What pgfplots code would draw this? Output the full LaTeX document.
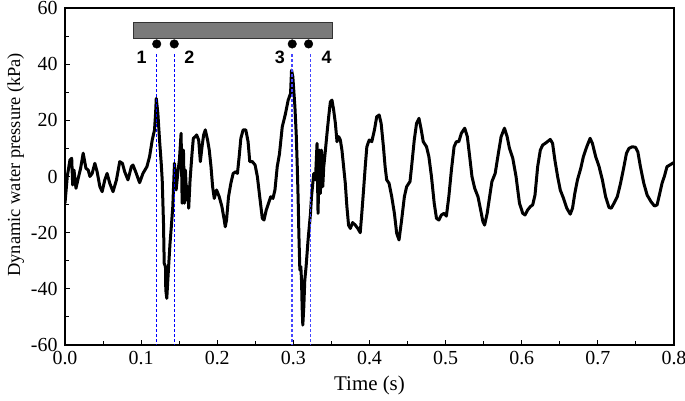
\documentclass[border=0pt]{standalone}
\usepackage{fontspec}
\setmainfont{Liberation Serif}
\newfontfamily\numfont{Liberation Sans}
\usepackage{pgfplots}
\pgfplotsset{compat=1.18}
\definecolor{lineblue}{RGB}{0,0,255}
\definecolor{lineblue2}{RGB}{70,70,255}
\definecolor{bargray}{RGB}{122,122,122}

\begin{document}
\begin{tikzpicture}
\begin{axis}[
    scale only axis,
    width=609bp, height=337bp,
    xmin=0, xmax=0.8, ymin=-60, ymax=60,
    xtick={0,0.1,0.2,0.3,0.4,0.5,0.6,0.7,0.8},
    ytick={-60,-40,-20,0,20,40,60},
    minor tick num=1,
    tick pos=left, tick align=inside,
    major tick length=5bp, minor tick length=4bp,
    every tick/.style={black, line width=0.9bp},
    axis line style={line width=1.1bp},
    /pgf/number format/assume math mode=true,
    x tick label style={yshift=-3bp},
    xticklabel={\pgfmathprintnumber[fixed, fixed zerofill, precision=1]{\tick}},
    tick label style={font=\fontsize{20}{20}\selectfont},
    y tick label style={xshift=-4bp},
    xlabel={Time (s)},
    ylabel={Dynamic water pressure (kPa)},
    xlabel style={font=\fontsize{21}{21}\selectfont, yshift=-4bp},
    ylabel style={font=\fontsize{18.5}{19}\selectfont, at={(ticklabel cs:0.535)}},
]

% signal
\addplot[black, line width=3bp, line join=round] coordinates {
(0.0000,-9.5) (0.0030,0) (0.0065,5.9) (0.0088,6.5) (0.0101,-3) (0.0118,2.3)
(0.0144,-4.2) (0.0174,-0.6) (0.0205,2.9) (0.0239,8.3) (0.0275,2.9) (0.0305,2.3)
(0.0327,0) (0.0357,1.1) (0.0392,4.7) (0.0422,1.7) (0.0458,-3.6) (0.0488,-5.4)
(0.0523,-1.2) (0.0553,1.1) (0.0588,-2.4) (0.0631,-5.4) (0.0676,-1.2) (0.0719,5.3)
(0.0754,4.7) (0.0784,1.7) (0.0827,-1.2) (0.0872,3.5) (0.0893,4.1) (0.0928,1.7)
(0.0980,-2.2) (0.1024,1.1) (0.1076,3.5) (0.1111,7.1) (0.1146,13) (0.1176,16.6)
(0.1190,22.5) (0.1199,27.8) (0.1220,22.5) (0.1242,13) (0.1264,4.7) (0.1277,-1.2)
(0.1294,-16.7) (0.1303,-30.9) (0.1320,-32.1) (0.1324,-40.4) (0.1337,-43.4)
(0.1359,-33) (0.1379,-24) (0.1399,-17) (0.1416,-10.7) (0.1438,4.7) (0.1460,-4.8)
(0.1481,1.1) (0.1503,5.9) (0.1525,15.4) (0.1539,-9.5) (0.1556,9.4) (0.1569,-9.5)
(0.1582,2.3) (0.1599,-8.4) (0.1612,-3.6) (0.1625,-11.3) (0.1643,-1.2) (0.1669,8.3)
(0.1686,13.6) (0.1712,14.2) (0.1729,14.8) (0.1756,13) (0.1778,5.3) (0.1800,10.6)
(0.1821,14.8) (0.1843,16.6) (0.1873,13) (0.1895,9.4) (0.1918,3.5) (0.1939,-3.6)
(0.1961,-7.8) (0.1991,-4.8) (0.2026,-7.2) (0.2061,-10.7) (0.2092,-15.5) (0.2105,-17.9)
(0.2122,-15.5) (0.2148,-7.2) (0.2179,-2.4) (0.2209,1.1) (0.2244,1.7) (0.2265,1.1)
(0.2288,7.1) (0.2310,13.6) (0.2340,16.6) (0.2375,16.6) (0.2405,12.4) (0.2427,5.3)
(0.2461,5.3) (0.2497,4.1) (0.2527,0) (0.2558,-7.2) (0.2592,-14.9) (0.2614,-15.5)
(0.2644,-11.9) (0.2680,-9.0) (0.2702,-7.2) (0.2732,-7.8) (0.2758,-4.8) (0.2788,3.5)
(0.2817,8) (0.2854,17.7) (0.2893,22) (0.2932,27.2) (0.2963,29.6) (0.2976,37.9)
(0.2993,35.5) (0.3020,24.9) (0.3037,15.4) (0.3050,4.7) (0.3063,-8.4) (0.3072,-20.2)
(0.3085,-33.3) (0.3098,-32.1) (0.3107,-36.9) (0.3115,-46.4) (0.3124,-52.9)
(0.3137,-46.4) (0.3150,-36.9) (0.3167,-32.1) (0.3193,-22.6) (0.3225,-13.1)
(0.3238,-7.2) (0.3268,1.1) (0.3290,-1.2) (0.3311,11.8) (0.3324,-13.1) (0.3342,9.4)
(0.3355,-6.0) (0.3369,9.4) (0.3386,-3.6) (0.3399,3.5) (0.3421,9.4) (0.3442,15.4)
(0.3464,21.3) (0.3486,26.6) (0.3507,27.2) (0.3529,23.7) (0.3552,18.9) (0.3573,12.4)
(0.3595,14.2) (0.3617,13) (0.3638,9.4) (0.3660,3.5) (0.3682,-2.4) (0.3703,-10.7)
(0.3725,-17.3) (0.3748,-18.5) (0.3778,-16.4) (0.3813,-17.3) (0.3847,-18.5)
(0.3878,-20.0) (0.3899,-13.1) (0.3922,-4.8) (0.3944,3.5) (0.3965,10.6) (0.3996,13)
(0.4030,12.4) (0.4065,16.6) (0.4095,21.3) (0.4127,21.9) (0.4153,18.9) (0.4183,10.6)
(0.4205,3.5) (0.4226,-1.2) (0.4257,-2.4) (0.4292,-7.2) (0.4327,-13.1) (0.4357,-20.2)
(0.4388,-22.6) (0.4422,-15.5) (0.4458,-7.2) (0.4488,-3.6) (0.4532,-1.8) (0.4553,3.5)
(0.4588,13) (0.4618,18.9) (0.4650,20.7) (0.4676,17.2) (0.4706,12.4) (0.4749,10.6)
(0.4780,7.1) (0.4814,0) (0.4850,-9.5) (0.4880,-14.9) (0.4911,-15.5) (0.4945,-13.7)
(0.4980,-13.1) (0.5010,-14.1) (0.5042,-7.2) (0.5076,2.3) (0.5111,10.6) (0.5141,12.4)
(0.5173,12.4) (0.5207,15.4) (0.5251,17.2) (0.5285,14.2) (0.5316,7.1) (0.5346,0)
(0.5382,-4.2) (0.5425,-7.2) (0.5460,-11.9) (0.5490,-16.1) (0.5512,-17.3)
(0.5546,-13.1) (0.5578,-7.2) (0.5608,-1.8) (0.5651,1.1) (0.5686,7.1) (0.5729,14.2)
(0.5773,17.2) (0.5808,14.2) (0.5839,10.0) (0.5882,6.5) (0.5925,0) (0.5970,-9.5)
(0.6013,-13.1) (0.6043,-13.7) (0.6078,-11.9) (0.6114,-10.7) (0.6144,-10.1)
(0.6174,-6.6) (0.6209,3.5) (0.6244,9.4) (0.6275,11.2) (0.6318,12.0) (0.6375,13.2)
(0.6405,11.8) (0.6435,5.9) (0.6471,0) (0.6506,-4.8) (0.6549,-7.8) (0.6592,-11.3)
(0.6637,-13.4) (0.6667,-11.3) (0.6697,-6.0) (0.6732,-1.2) (0.6775,2.9) (0.6810,7.1)
(0.6854,10.6) (0.6898,13.6) (0.6928,11.8) (0.6971,7.1) (0.7016,3.5) (0.7059,-1.2)
(0.7102,-7.2) (0.7146,-11.0) (0.7176,-11.3) (0.7212,-9.5) (0.7255,-7.2) (0.7298,-2.4)
(0.7342,3.5) (0.7376,8.3) (0.7408,10.0) (0.7451,10.6) (0.7494,10.4) (0.7525,8.8)
(0.7559,3.5) (0.7603,-2.4) (0.7647,-6.6) (0.7699,-9.0) (0.7743,-10.5) (0.7778,-10.1)
(0.7813,-6.0) (0.7843,-2.4) (0.7873,0) (0.7908,3.5) (0.8000,5)
};

% sensor positions
\addplot[lineblue, line width=1.5bp, dash pattern=on 3bp off 2bp] coordinates {(0.1205,43.5) (0.1205,-60)};
\addplot[lineblue, line width=1.5bp, dash pattern=on 3bp off 2bp] coordinates {(0.1438,43.5) (0.1438,-60)};
\addplot[lineblue2, line width=1.5bp, dash pattern=on 3bp off 2bp] coordinates {(0.2980,43.5) (0.2980,-60)};
\addplot[lineblue2, line width=1.5bp, dash pattern=on 3bp off 2bp] coordinates {(0.3225,43.5) (0.3225,-60)};

% load bar and wheels
\addplot[fill=bargray, draw=black!80, line width=0.8bp] coordinates {(0.0893,49) (0.3516,49) (0.3516,54.8) (0.0893,54.8)} -- cycle;
\addplot[only marks, mark=*, mark size=4.3bp, black] coordinates {(0.1205,47.2) (0.1435,47.2) (0.2985,47.2) (0.3200,47.2)};

\node[font=\numfont\bfseries\fontsize{18}{18}\selectfont] at (axis cs:0.1007,42.6) {1};
\node[font=\numfont\bfseries\fontsize{18}{18}\selectfont] at (axis cs:0.1634,42.6) {2};
\node[font=\numfont\bfseries\fontsize{18}{18}\selectfont] at (axis cs:0.2824,42.6) {3};
\node[font=\numfont\bfseries\fontsize{18}{18}\selectfont] at (axis cs:0.3435,42.6) {4};
\end{axis}
\pgfresetboundingbox
\path[use as bounding box] ([xshift=-65bp,yshift=-55bp]current axis.south west) rectangle ([xshift=11bp,yshift=8bp]current axis.north east);
\end{tikzpicture}
\end{document}
